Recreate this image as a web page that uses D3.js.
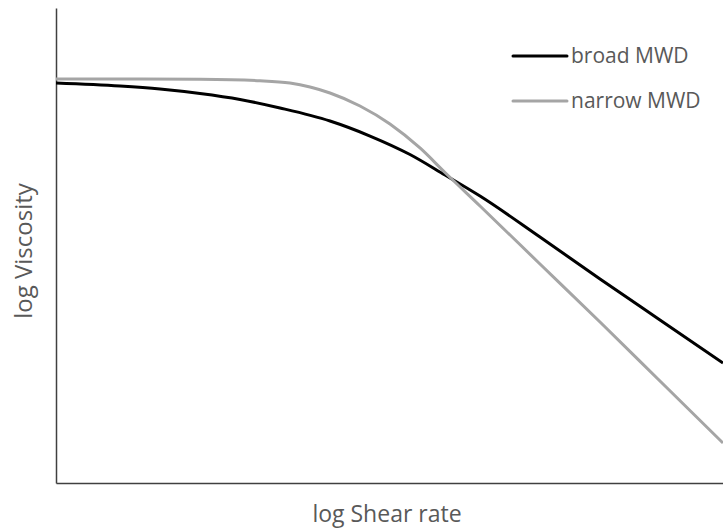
<!DOCTYPE html>
<html>
<head>
<meta charset="utf-8">
<script src="https://cdn.jsdelivr.net/npm/d3@7"></script>
<style>
  body { margin: 0; background: #fff; }
  text { font-family: "Open Sans", sans-serif; fill: #595959; }
</style>
</head>
<body>
<div id="graph"></div>
<script>
// arbitrary log units (0..10 on both axes)
var broadX    = [0, 0.96, 1.559, 2.159, 2.759, 3.358, 4.108, 4.708, 5.307, 5.832, 6.357, 7.256, 8.156, 9.055, 10];
var broadMWD  = [8.421, 8.358, 8.295, 8.2, 8.074, 7.895, 7.621, 7.305, 6.916, 6.484, 6.042, 5.179, 4.295, 3.432, 2.526];
var narrowX   = [0, 1.259, 2.159, 3.058, 3.508, 3.808, 4.108, 4.558, 5.007, 5.457, 5.832, 6.357, 7.256, 8.156, 9.055, 10];
var narrowMWD = [8.505, 8.505, 8.499, 8.469, 8.421, 8.337, 8.211, 7.937, 7.558, 7.053, 6.537, 5.832, 4.611, 3.389, 2.147, 0.842];
var seriesNames = ["broad MWD", "narrow MWD"];
var seriesColors = ["#000000", "#a5a5a5"];

var W = 723, H = 529;
var margin = {top: 8, right: 0, bottom: 46, left: 56},
    width = W - margin.left - margin.right,
    height = H - margin.top - margin.bottom;

var x = d3.scaleLinear().domain([0, 10]).range([0, width]);
var y = d3.scaleLinear().domain([0, 10]).range([height, 0]);

var svg = d3.select("#graph").append("svg")
    .attr("width", W)
    .attr("height", H)
  .append("g")
    .attr("transform", "translate(" + margin.left + "," + margin.top + ")");

// axes, no ticks
svg.append("g")
    .attr("transform", "translate(0," + height + ")")
    .call(d3.axisBottom(x).ticks(0).tickSizeOuter(0))
    .select(".domain").attr("stroke", "#404040").attr("stroke-width", 1.5);
svg.append("g")
    .call(d3.axisLeft(y).ticks(0).tickSizeOuter(0))
    .select(".domain").attr("stroke", "#404040").attr("stroke-width", 1.5);

var line = d3.line()
    .x(function(d) { return x(d[0]); })
    .y(function(d) { return y(d[1]); })
    .curve(d3.curveMonotoneX);

var series = [d3.zip(broadX, broadMWD), d3.zip(narrowX, narrowMWD)];
series.forEach(function(pts, i) {
  svg.append("path")
      .datum(pts)
      .attr("fill", "none")
      .attr("stroke", seriesColors[i])
      .attr("stroke-width", 3)
      .attr("stroke-linejoin", "round")
      .attr("d", line);
});

// legend
var legend = svg.selectAll(".legend")
    .data(seriesNames)
    .enter().append("g")
    .attr("transform", function(d, i) { return "translate(" + (513 - margin.left) + "," + (56 - margin.top + i * 45) + ")"; });
legend.append("line")
    .attr("x1", 0).attr("x2", 54)
    .attr("stroke", function(d, i) { return seriesColors[i]; })
    .attr("stroke-width", 3)
    .attr("stroke-linecap", "round");
legend.append("text")
    .attr("x", 58)
    .attr("dy", "0.35em")
    .style("font-size", "21px")
    .text(function(d) { return d; });

// axis titles
svg.append("text")
    .attr("x", 387 - margin.left)
    .attr("y", 522 - margin.top)
    .attr("text-anchor", "middle")
    .style("font-size", "23px")
    .text("log Shear rate");
svg.append("text")
    .attr("transform", "rotate(-90)")
    .attr("x", -(251 - margin.top))
    .attr("y", 32 - margin.left)
    .attr("text-anchor", "middle")
    .style("font-size", "24px")
    .text("log Viscosity");
</script>
</body>
</html>
